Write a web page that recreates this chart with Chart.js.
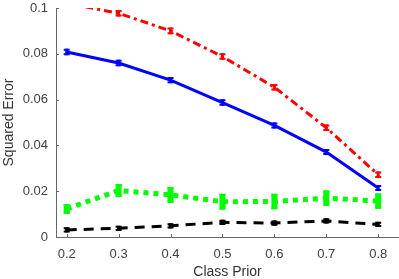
<!DOCTYPE html>
<html>
<head>
<meta charset="utf-8">
<script src="https://cdn.jsdelivr.net/npm/chart.js@4/dist/chart.umd.min.js"></script>
<style>
html,body{margin:0;padding:0;background:#fff;}
#wrap{width:399px;height:279px;position:relative;}
</style>
</head>
<body>
<div id="wrap"><canvas id="c" width="399" height="279"></canvas></div>
<script>
// ---- data ----
const classPrior = [0.2, 0.3, 0.4, 0.5, 0.6, 0.7, 0.8];
const xTickValues = [0.2, 0.3, 0.4, 0.5, 0.6, 0.7, 0.8];
const xTickLabels = ['0.2', '0.3', '0.4', '0.5', '0.6', '0.7', '0.8'];
const yTickValues = [0, 0.02, 0.04, 0.06, 0.08, 0.1];
const yTickLabels = ['0', '0.02', '0.04', '0.06', '0.08', '0.1'];

const redValues   = [0.1021, 0.0977, 0.0900, 0.0788, 0.0654, 0.0477, 0.0272];
const redErr      = [0.0010, 0.0010, 0.0010, 0.0010, 0.0010, 0.0010, 0.0010];
const blueValues  = [0.0808, 0.0760, 0.0685, 0.0587, 0.0487, 0.0371, 0.0214];
const blueErr     = [0.0010, 0.0010, 0.0009, 0.0010, 0.0009, 0.0009, 0.0009];
const greenValues = [0.0123, 0.0203, 0.0184, 0.0154, 0.0155, 0.0170, 0.0157];
const greenErr    = [0.0017, 0.0024, 0.0030, 0.0030, 0.0029, 0.0029, 0.0029];
const blackValues = [0.0031, 0.0038, 0.0049, 0.0064, 0.0061, 0.0070, 0.0055];
const blackErr    = [0.0007, 0.0007, 0.0007, 0.0007, 0.0007, 0.0007, 0.0007];

const toPts = vals => classPrior.map((x, i) => ({x: x, y: vals[i]}));

const errorBars = {
  id: 'errorBars',
  afterDatasetsDraw(chart) {
    const ctx = chart.ctx, xs = chart.scales.x, ys = chart.scales.y, a = chart.chartArea;
    ctx.save();
    ctx.beginPath();
    ctx.rect(a.left, a.top, a.right - a.left, a.bottom - a.top);
    ctx.clip();
    chart.data.datasets.forEach(ds => {
      const e = ds.errors; if (!e) return;
      ctx.strokeStyle = ds.borderColor;
      ctx.lineCap = 'butt';
      ds.data.forEach((p, i) => {
        const px = xs.getPixelForValue(p.x);
        const yHi = ys.getPixelForValue(p.y + e[i]);
        const yLo = ys.getPixelForValue(p.y - e[i]);
        ctx.lineWidth = ds.errWidth;
        ctx.beginPath(); ctx.moveTo(px, yHi - ds.capThick / 2); ctx.lineTo(px, yLo + ds.capThick / 2); ctx.stroke();
        ctx.lineWidth = ds.capThick;
        ctx.beginPath();
        ctx.moveTo(px - ds.capHalf, yHi); ctx.lineTo(px + ds.capHalf, yHi);
        ctx.moveTo(px - ds.capHalf, yLo); ctx.lineTo(px + ds.capHalf, yLo);
        ctx.stroke();
      });
    });
    ctx.restore();
  }
};

const inwardTicks = {
  id: 'inwardTicks',
  afterDraw(chart) {
    const ctx = chart.ctx, xs = chart.scales.x, ys = chart.scales.y, a = chart.chartArea;
    ctx.save();
    ctx.strokeStyle = '#666';
    ctx.lineWidth = 1;
    ctx.beginPath();
    xTickValues.forEach(v => {
      const px = Math.round(xs.getPixelForValue(v)) + 0.5;
      ctx.moveTo(px, a.bottom); ctx.lineTo(px, a.bottom - 3);
    });
    yTickValues.forEach(v => {
      const py = Math.round(ys.getPixelForValue(v)) + 0.5;
      ctx.moveTo(a.left, py); ctx.lineTo(a.left + 3, py);
    });
    ctx.stroke();
    ctx.restore();
  }
};

new Chart(document.getElementById('c'), {
  type: 'line',
  data: {
    datasets: [
      {data: toPts(redValues), errors: redErr, borderColor: '#ff0000', borderWidth: 3,
       borderDash: [8, 4, 3, 4], errWidth: 3, capHalf: 3, capThick: 2},
      {data: toPts(blueValues), errors: blueErr, borderColor: '#0000ff', borderWidth: 3,
       errWidth: 3, capHalf: 3, capThick: 2},
      {data: toPts(greenValues), errors: greenErr, borderColor: '#00ff00', borderWidth: 5,
       borderDash: [5, 5], errWidth: 6, capHalf: 3, capThick: 2},
      {data: toPts(blackValues), errors: blackErr, borderColor: '#000000', borderWidth: 3,
       borderDash: [10, 7], errWidth: 3, capHalf: 3, capThick: 2}
    ]
  },
  options: {
    responsive: false,
    animation: false,
    events: [],
    layout: {padding: {top: 8, right: 0, bottom: 0, left: 0}},
    elements: {point: {radius: 0}, line: {tension: 0, borderCapStyle: 'butt'}},
    plugins: {legend: {display: false}, tooltip: {enabled: false}},
    scales: {
      x: {
        type: 'linear', min: 0.1794, max: 0.84,
        grid: {display: false, drawTicks: true, tickLength: 10},
        border: {display: true, color: '#666', width: 1},
        ticks: {padding: 0, color: '#404040', font: {family: 'Liberation Sans', size: 13},
                callback: (v) => { const i = xTickValues.indexOf(v); return i >= 0 ? xTickLabels[i] : ''; }},
        afterBuildTicks: (s) => { s.ticks = xTickValues.map(v => ({value: v})); },
        afterFit: (s) => { s.height = 42; },
        title: {display: true, text: 'Class Prior', color: '#333', padding: {top: 0, bottom: 0},
                font: {family: 'Liberation Sans', size: 14, lineHeight: 1.0}}
      },
      y: {
        type: 'linear', min: 0, max: 0.1,
        grid: {display: false, drawTicks: true, tickLength: 8},
        border: {display: true, color: '#666', width: 1},
        ticks: {padding: 0, color: '#404040', font: {family: 'Liberation Sans', size: 13},
                callback: (v) => { const i = yTickValues.findIndex(t => Math.abs(t - v) < 1e-9); return i >= 0 ? yTickLabels[i] : ''; }},
        afterBuildTicks: (s) => { s.ticks = yTickValues.map(v => ({value: v})); },
        afterFit: (s) => { s.width = 56; },
        title: {display: true, text: 'Squared Error', color: '#333', padding: {top: 1, bottom: 0},
                font: {family: 'Liberation Sans', size: 14}}
      }
    }
  },
  plugins: [errorBars, inwardTicks]
});
</script>
</body>
</html>
